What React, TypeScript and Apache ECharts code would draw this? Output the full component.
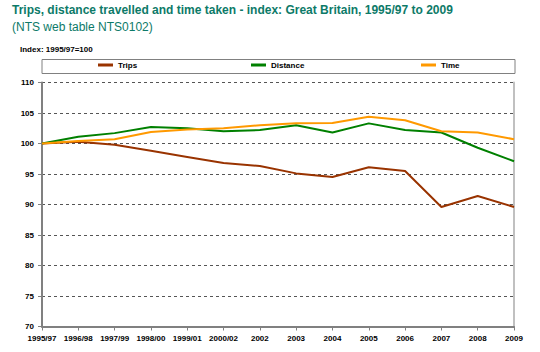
import React, { useEffect, useRef } from "react";
import * as echarts from "echarts";

const categories = ["1995/97", "1996/98", "1997/99", "1998/00", "1999/01", "2000/02", "2002", "2003", "2004", "2005", "2006", "2007", "2008", "2009"];
const trips = [100, 100.3, 99.8, 98.8, 97.8, 96.8, 96.3, 95.1, 94.5, 96.1, 95.5, 89.6, 91.4, 89.6];
const distance = [100, 101.1, 101.7, 102.7, 102.5, 102.0, 102.2, 103.0, 101.8, 103.3, 102.2, 101.8, 99.3, 97.1];
const time = [100, 100.4, 100.7, 101.9, 102.3, 102.5, 103.0, 103.3, 103.35, 104.4, 103.8, 102.0, 101.8, 100.7];

const FONT = "'Liberation Sans', Arial, sans-serif";

export default function App() {
  const ref = useRef<HTMLDivElement>(null);
  useEffect(() => {
    if (!ref.current) return;
    const chart = echarts.init(ref.current, null, { renderer: "svg" });
    const legendCommon = {
      top: 61,
      itemWidth: 15,
      itemHeight: 3,
      icon: "rect",
      textStyle: { fontFamily: FONT, fontSize: 8, fontWeight: "bold", color: "#000" },
      selectedMode: false,
      padding: 0,
    };
    chart.setOption({
      animation: false,
      textStyle: { fontFamily: FONT },
      title: [
        {
          text: "Trips, distance travelled and time taken - index: Great Britain, 1995/97 to 2009",
          left: 12,
          top: 4,
          padding: 0,
          textStyle: { fontFamily: FONT, fontSize: 12, fontWeight: "bold", color: "#0d7a68" },
        },
        {
          text: "(NTS web table NTS0102)",
          left: 12,
          top: 21,
          padding: 0,
          textStyle: { fontFamily: FONT, fontSize: 12, fontWeight: "normal", color: "#0d7a68" },
        },
        {
          text: "Index: 1995/97=100",
          left: 20,
          top: 45,
          padding: 0,
          textStyle: { fontFamily: FONT, fontSize: 8, fontWeight: "bold", color: "#000" },
        },
      ],
      legend: [
        { ...legendCommon, left: 98, data: ["Trips"] },
        { ...legendCommon, left: 251, data: ["Distance"] },
        { ...legendCommon, left: 421, data: ["Time"] },
      ],
      graphic: [
        {
          type: "rect",
          shape: { x: 42, y: 59.5, width: 473, height: 14 },
          style: { fill: "none", stroke: "#808080", lineWidth: 1 },
          z: -1,
        },
      ],
      grid: { left: 42, right: 26, top: 82.5, bottom: 25.5, containLabel: false },
      xAxis: {
        type: "category",
        data: categories,
        boundaryGap: false,
        axisLine: { lineStyle: { color: "#808080", width: 2 } },
        axisTick: { show: true, length: 4, lineStyle: { color: "#808080", width: 1 } },
        axisLabel: { fontFamily: FONT, fontSize: 8, fontWeight: "bold", color: "#000", margin: 8, interval: 0 },
        splitLine: { show: false },
      },
      yAxis: [
        {
          type: "value",
          min: 70,
          max: 110,
          interval: 5,
          axisLine: { show: true, lineStyle: { color: "#808080", width: 2 } },
          axisTick: { show: true, length: 4, lineStyle: { color: "#808080", width: 1 } },
          axisLabel: { fontFamily: FONT, fontSize: 8, fontWeight: "bold", color: "#000", margin: 8 },
          splitLine: { show: true, lineStyle: { color: "#555", type: [3, 3], width: 1 } },
        },
        {
          type: "value",
          position: "right",
          min: 70,
          max: 110,
          interval: 5,
          axisLine: { show: true, lineStyle: { color: "#c0c0c0", width: 2 } },
          axisTick: { show: false },
          axisLabel: { show: false },
          splitLine: { show: false },
        },
      ],
      series: [
        { name: "Trips", type: "line", data: trips, symbol: "none", lineStyle: { color: "#993300", width: 2 }, itemStyle: { color: "#993300" } },
        { name: "Distance", type: "line", data: distance, symbol: "none", lineStyle: { color: "#008000", width: 2 }, itemStyle: { color: "#008000" } },
        { name: "Time", type: "line", data: time, symbol: "none", lineStyle: { color: "#ff9900", width: 2 }, itemStyle: { color: "#ff9900" } },
      ],
    });
    return () => chart.dispose();
  }, []);
  return <div ref={ref} style={{ width: 540, height: 352, position: "absolute", left: 0, top: 0 }} />;
}
